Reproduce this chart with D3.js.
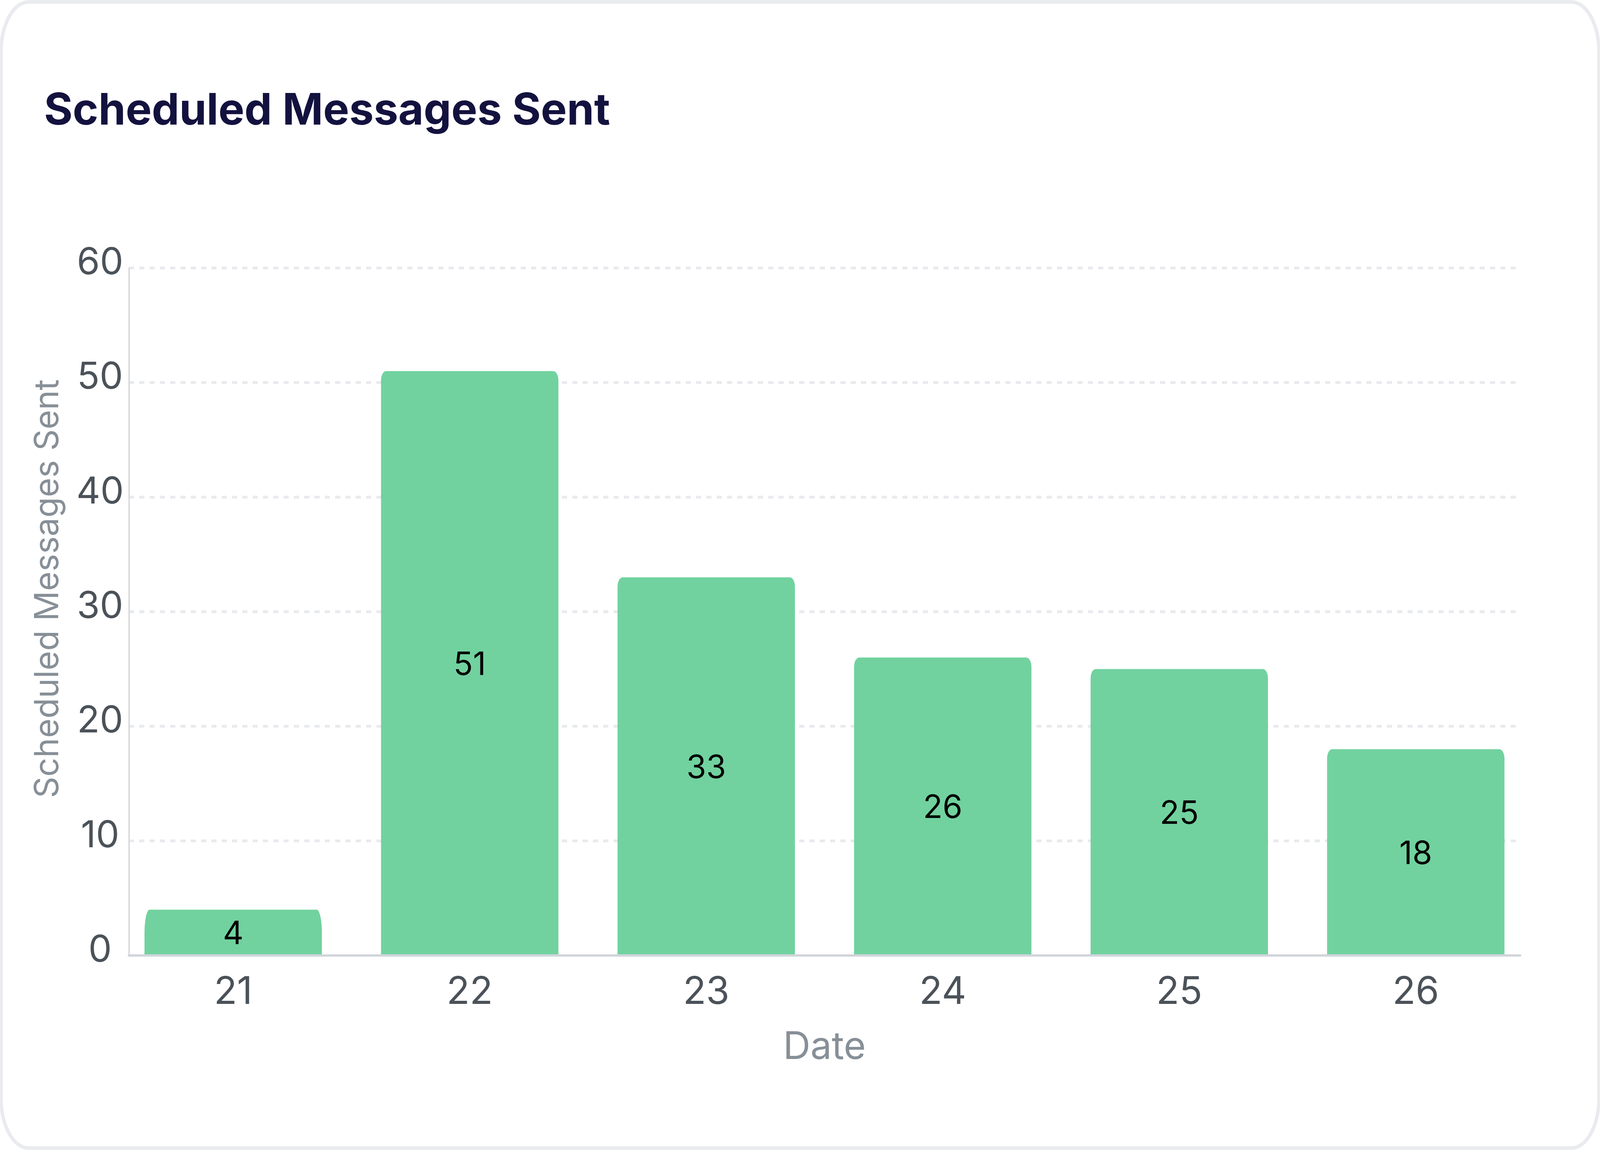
<!DOCTYPE html>
<html>
<head>
<meta charset="utf-8">
<script src="https://cdn.jsdelivr.net/npm/d3@7"></script>
<style>
  html, body { margin: 0; padding: 0; background: #ffffff; overflow: hidden; }
  #chart svg { display: block; }
  text { font-family: Inter, "Noto Sans", sans-serif; }
</style>
</head>
<body>
<div id="chart"></div>
<script>
// chart data
var days = ["21", "22", "23", "24", "25", "26"];
var messagesSent = [4, 51, 33, 26, 25, 18];
var yTicks = [0, 10, 20, 30, 40, 50, 60];

// layout is designed on a 7448 x 2944 page and stretched to the real window
var baseWidth = 7448;
var baseHeight = 2944;
var svgWidth = window.innerWidth || baseWidth;
var svgHeight = window.innerHeight || baseHeight;
var sx = svgWidth / baseWidth;
var sy = svgHeight / baseHeight;

var plot = { left: 600 * sx, right: 7076 * sx, top: 686 * sy, bottom: 2446 * sy };

var svg = d3.select("#chart")
  .append("svg")
  .attr("width", svgWidth)
  .attr("height", svgHeight);

// card background + border
svg.append("rect")
  .attr("x", 5 * sx)
  .attr("y", 5 * sy)
  .attr("width", svgWidth - 10 * sx)
  .attr("height", svgHeight - 10 * sy)
  .attr("rx", 128 * sx)
  .attr("ry", 128 * sy)
  .attr("fill", "#ffffff")
  .attr("stroke", "#e9ebef")
  .attr("stroke-width", 9 * sy);

// title
svg.append("text")
  .attr("x", 205 * sx)
  .attr("y", 319 * sy)
  .attr("font-size", 112 * sy)
  .attr("font-weight", 700)
  .attr("fill", "#13123f")
  .text("Scheduled Messages Sent");

// Step 1: scales
// ==============================
var xScale = d3.scaleBand()
  .domain(days)
  .range([plot.left, plot.right])
  .paddingInner(0.25)
  .paddingOuter(0.066);

var yScale = d3.scaleLinear()
  .domain([0, 60])
  .range([plot.bottom, plot.top]);

// Step 2: dashed grid lines
// ==============================
svg.append("g")
  .selectAll("line")
  .data(yTicks.filter(d => d > 0))
  .enter()
  .append("line")
  .attr("x1", plot.left)
  .attr("x2", plot.right)
  .attr("y1", d => yScale(d))
  .attr("y2", d => yScale(d))
  .attr("stroke", "#e8eaed")
  .attr("stroke-width", 7 * sy)
  .attr("stroke-dasharray", `${24 * sx} ${24 * sx}`);

// Step 3: bars with rounded tops
// ==============================
function barPath(x, y, w, h, rx, ry) {
  return "M" + x + "," + (y + h) +
    "V" + (y + ry) +
    "A" + rx + "," + ry + " 0 0 1 " + (x + rx) + "," + y +
    "H" + (x + w - rx) +
    "A" + rx + "," + ry + " 0 0 1 " + (x + w) + "," + (y + ry) +
    "V" + (y + h) + "Z";
}

var barData = days.map((d, i) => ({ day: d, value: messagesSent[i] }));

svg.append("g")
  .selectAll("path")
  .data(barData)
  .enter()
  .append("path")
  .attr("d", function(d) {
    var y = yScale(d.value);
    var h = yScale(0) - y;
    // short bars get a taller, squashed corner like the original
    var ry = h < 200 * sy ? h / 2 : 24 * sy;
    return barPath(xScale(d.day), y, xScale.bandwidth(), h, 24 * sx, ry);
  })
  .attr("fill", "#71d29f");

// value labels in the middle of each bar
svg.append("g")
  .selectAll("text")
  .data(barData)
  .enter()
  .append("text")
  .attr("x", d => xScale(d.day) + xScale.bandwidth() / 2)
  .attr("y", d => (yScale(d.value) + yScale(0)) / 2)
  .attr("text-anchor", "middle")
  .attr("dominant-baseline", "central")
  .attr("font-size", 82 * sy)
  .attr("fill", "#000000")
  .text(d => d.value);

// Step 4: axes
// ==============================
var tickFont = 95 * sy;

var leftAxis = d3.axisLeft(yScale)
  .tickValues(yTicks)
  .tickSize(0)
  .tickSizeOuter(0);

var yAxisGroup = svg.append("g")
  .attr("transform", `translate(${plot.left},0)`)
  .call(leftAxis);

yAxisGroup.select(".domain")
  .attr("stroke", "#d1d5db")
  .attr("stroke-width", 6 * sx)
  .attr("stroke-linecap", "round");

// labels are centred in a column that ends just left of the axis
yAxisGroup.selectAll("text")
  .attr("x", -(34 * sx + 0.58 * tickFont))
  .attr("y", -15 * sy)
  .attr("text-anchor", "middle")
  .attr("font-size", tickFont)
  .attr("font-family", "Inter, sans-serif")
  .attr("fill", "#4b5259");

var bottomAxis = d3.axisBottom(xScale)
  .tickSize(0)
  .tickSizeOuter(0);

var xAxisGroup = svg.append("g")
  .attr("transform", `translate(0,${plot.bottom})`)
  .call(bottomAxis);

xAxisGroup.select(".domain")
  .attr("d", `M${plot.left},0H${plot.right}`)
  .attr("stroke", "#d1d5db")
  .attr("stroke-width", 6 * sy)
  .attr("stroke-linecap", "round");

xAxisGroup.selectAll("text")
  .attr("y", 124 * sy)
  .attr("dy", null)
  .attr("font-size", 97 * sy)
  .attr("font-family", "Inter, sans-serif")
  .attr("fill", "#4b5259");

// Step 5: axis titles
// ==============================
var yTitleFont = 97 * Math.min(sy, sx * 1.6);
// keep the rotated title clear of the tick label column
var labelsLeft = plot.left - 34 * sx - 1.16 * tickFont;
var yTitleX = Math.min(345 * sx, labelsLeft - 60 * sx - 0.22 * yTitleFont);

svg.append("text")
  .attr("transform", `translate(${yTitleX},${1507 * sy}) rotate(-90)`)
  .attr("text-anchor", "middle")
  .attr("font-size", yTitleFont)
  .attr("fill", "#878f97")
  .text("Scheduled Messages Sent");

svg.append("text")
  .attr("x", (plot.left + plot.right) / 2)
  .attr("y", 2711 * sy)
  .attr("text-anchor", "middle")
  .attr("font-size", 97 * sy)
  .attr("fill", "#878f97")
  .text("Date");
</script>
</body>
</html>
